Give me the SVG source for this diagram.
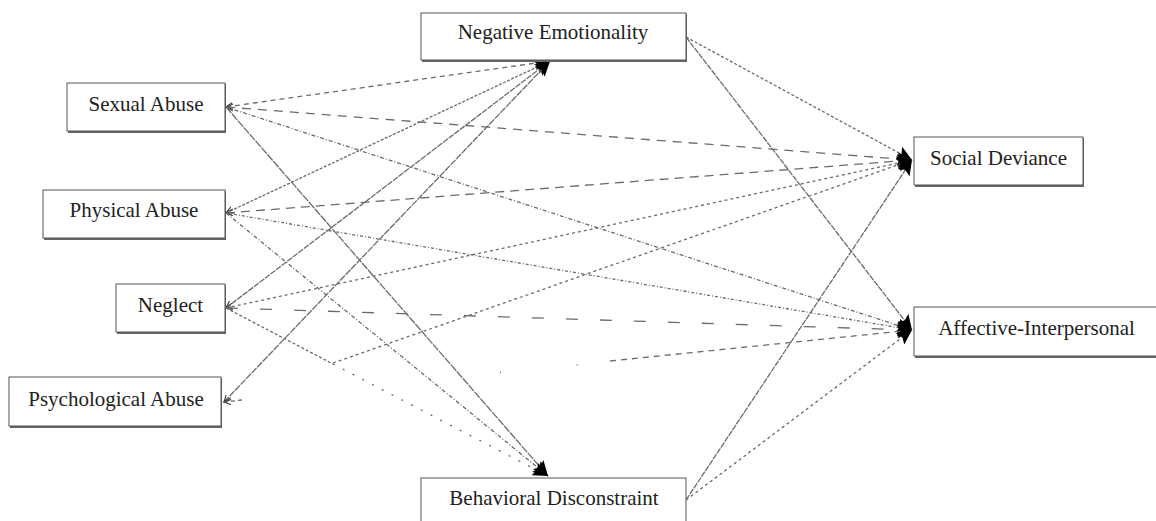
<svg xmlns="http://www.w3.org/2000/svg" width="1156" height="521" viewBox="0 0 1156 521">
<style>
.box{fill:#fff;stroke:#555;stroke-width:1}
.sh{fill:#666}
.lbl{font-family:"Liberation Serif","Times New Roman",serif;font-size:21px;fill:#222;text-anchor:middle}
.c{fill:none;stroke:#6b6b6b;stroke-width:1.3}
.a{marker-end:url(#head)}
.s{marker-start:url(#tail)}
</style>
<defs>
<marker id="head" markerUnits="userSpaceOnUse" markerWidth="16" markerHeight="14" refX="15" refY="7" orient="auto">
<path d="M0,0 L15,7 L0,14 L3,7 z" fill="#000"/>
</marker>
<marker id="tail" markerUnits="userSpaceOnUse" markerWidth="8" markerHeight="8" refX="1" refY="4" orient="auto">
<path d="M8,0.5 L1,4 L8,7.5" fill="none" stroke="#444" stroke-width="1.2"/>
</marker>
</defs>
<g id="connectors">
<path class="c a s" d="M226,107 L550,61" stroke-dasharray="5 4"/>
<path class="c a s" d="M226,107 L912,160" stroke-dasharray="9 7"/>
<path class="c a" d="M226,107 L912,330" stroke-dasharray="4 2 1 2"/>
<path class="c a" d="M226,107 L548,476" stroke-dasharray="8 1"/>
<path class="c a s" d="M226,213 L550,61" stroke-dasharray="3 1.5"/>
<path class="c a s" d="M226,213 L912,160" stroke-dasharray="9 6"/>
<path class="c a" d="M226,213 L912,330" stroke-dasharray="3 2 1 2"/>
<path class="c a" d="M226,213 L548,476" stroke-dasharray="4 2 1 2"/>
<path class="c a s" d="M226,308 L550,61" stroke-dasharray="6 1"/>
<path class="c a s" d="M226,308 L912,160" stroke-dasharray="3 3"/>
<path class="c a" d="M226,308 L912,330" stroke-dasharray="12 22"/>
<path class="c" d="M226,308 L333,364" stroke-dasharray="3 2"/>
<path class="c a" d="M333,364 L548,476" stroke-dasharray="2 9"/>
<path class="c a s" d="M224,402 L550,61" stroke-dasharray="7 1"/>
<path class="c a" d="M333,363 L912,160" stroke-dasharray="3 3"/>
<path class="c s" d="M224,402 L242,400" stroke-dasharray="4 3"/>
<path class="c" d="M500,372.5 L580,364.5" stroke-dasharray="1 76"/>
<path class="c a" d="M610,361 L912,330" stroke-dasharray="6 5"/>
<path class="c a" d="M686,37 L912,160" stroke-dasharray="3 2"/>
<path class="c a" d="M686,37 L912,330" stroke-dasharray="6 1"/>
<path class="c a" d="M686,500 L912,160" stroke-dasharray="6 1"/>
<path class="c a" d="M686,500 L912,330" stroke-dasharray="3 3"/>
</g>
<g id="sexual-abuse">
<rect class="sh" x="68" y="84" width="158" height="49"/>
<rect class="box" x="67" y="83" width="158" height="48"/>
<text class="lbl" x="146" y="111">Sexual Abuse</text>
</g>
<g id="physical-abuse">
<rect class="sh" x="44" y="191" width="182" height="49"/>
<rect class="box" x="43" y="190" width="182" height="48"/>
<text class="lbl" x="134" y="217">Physical Abuse</text>
</g>
<g id="neglect">
<rect class="sh" x="117" y="285" width="109" height="49"/>
<rect class="box" x="116" y="284" width="109" height="48"/>
<text class="lbl" x="170.5" y="312">Neglect</text>
</g>
<g id="psychological-abuse">
<rect class="sh" x="10" y="378" width="212" height="50"/>
<rect class="box" x="9" y="377" width="212" height="49"/>
<text class="lbl" x="116" y="406">Psychological Abuse</text>
</g>
<g id="negative-emotionality">
<rect class="sh" x="422" y="14" width="265" height="48"/>
<rect class="box" x="421" y="13" width="265" height="47"/>
<text class="lbl" x="553" y="39">Negative Emotionality</text>
</g>
<g id="behavioral-disconstraint">
<rect class="box" x="421" y="478" width="265" height="60"/>
<text class="lbl" x="554" y="505">Behavioral Disconstraint</text>
</g>
<g id="social-deviance">
<rect class="sh" x="915" y="138" width="169" height="49"/>
<rect class="box" x="914" y="137" width="169" height="48"/>
<text class="lbl" x="998.5" y="165">Social Deviance</text>
</g>
<g id="affective-interpersonal">
<rect class="sh" x="915" y="308" width="250" height="50"/>
<rect class="box" x="914" y="307" width="250" height="49"/>
<text class="lbl" x="1036.5" y="335">Affective-Interpersonal</text>
</g>
</svg>
